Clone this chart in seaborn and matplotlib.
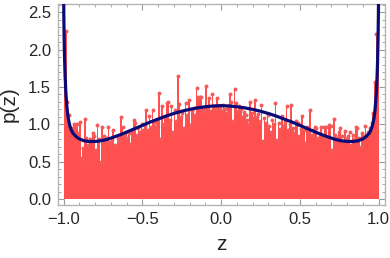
import numpy as np
import matplotlib.pyplot as plt
import seaborn as sns
from matplotlib.ticker import MultipleLocator

# sampled values, one per bin of width 0.01 on [-1, 1]
p_samples = [
    2.90, 2.25, 1.30, 1.12, 0.95, 0.92, 1.00, 0.97, 1.01, 0.88,
    1.03, 0.55, 0.68, 1.07, 0.82, 0.72, 0.80, 0.78, 0.89, 0.84,
    0.66, 0.99, 0.80, 0.50, 0.97, 0.85, 0.78, 0.82, 0.97, 0.76,
    0.80, 0.93, 0.72, 0.70, 0.81, 0.77, 1.10, 0.97, 0.84, 0.90,
    0.82, 0.88, 0.74, 0.93, 1.06, 1.02, 0.86, 0.95, 0.90, 1.01,
    0.93, 0.98, 1.19, 0.92, 1.11, 0.96, 1.19, 1.03, 0.98, 1.05,
    1.42, 0.80, 1.24, 1.00, 1.08, 1.29, 1.30, 1.06, 1.24, 0.90,
    1.19, 1.05, 1.64, 1.27, 1.10, 1.15, 0.95, 1.28, 1.12, 1.32,
    0.99, 1.18, 1.22, 1.12, 1.48, 1.37, 1.36, 1.36, 1.20, 1.16,
    1.51, 1.22, 1.35, 1.18, 1.40, 1.25, 1.20, 1.35, 1.24, 1.22,
    1.18, 1.26, 1.20, 1.15, 1.25, 1.40, 1.30, 1.05, 1.47, 1.29,
    1.18, 1.24, 1.20, 1.10, 1.17, 1.12, 1.06, 1.00, 1.30, 1.15,
    1.08, 1.32, 1.10, 1.14, 1.05, 1.26, 0.77, 1.08, 1.02, 1.12,
    0.98, 0.90, 1.06, 1.00, 1.28, 0.79, 1.02, 0.94, 1.11, 0.98,
    1.03, 1.24, 0.92, 1.00, 1.26, 0.95, 0.88, 1.04, 1.02, 0.85,
    0.94, 1.11, 0.92, 0.75, 0.97, 0.90, 1.19, 0.86, 0.93, 0.96,
    0.95, 0.82, 0.88, 0.97, 0.84, 0.97, 0.97, 0.80, 0.99, 0.98,
    0.66, 1.07, 0.86, 0.82, 0.90, 0.95, 0.84, 0.78, 0.91, 0.80,
    0.85, 0.90, 0.72, 0.86, 0.80, 0.96, 0.95, 0.82, 0.69, 0.88,
    0.84, 0.98, 0.86, 0.90, 0.95, 1.02, 1.15, 1.57, 2.21, 2.90,
]
z_centers = np.linspace(-0.995, 0.995, len(p_samples))

# theoretical density curve
curve_z = [-0.9995, -0.998, -0.996, -0.993, -0.99, -0.985, -0.98, -0.975, -0.97,
           -0.96, -0.95, -0.94, -0.92, -0.9, -0.87, -0.84, -0.8, -0.76, -0.72,
           -0.68, -0.64, -0.6, -0.55, -0.5, -0.45, -0.4, -0.35, -0.3, -0.25,
           -0.2, -0.15, -0.1, -0.05, 0.0,
           0.05, 0.1, 0.15, 0.2, 0.25, 0.3, 0.35, 0.4, 0.45, 0.5, 0.55, 0.6,
           0.64, 0.68, 0.72, 0.76, 0.8, 0.84, 0.87, 0.9, 0.92, 0.94, 0.95,
           0.96, 0.97, 0.975, 0.98, 0.985, 0.99, 0.993, 0.996, 0.998, 0.9995]
curve_p = [2.8, 2.45, 2.15, 1.85, 1.65, 1.42, 1.27, 1.16, 1.08,
           0.98, 0.92, 0.88, 0.835, 0.805, 0.78, 0.77, 0.77, 0.78, 0.80,
           0.83, 0.86, 0.895, 0.94, 0.985, 1.03, 1.07, 1.11, 1.145, 1.175,
           1.20, 1.22, 1.235, 1.245, 1.25,
           1.245, 1.235, 1.22, 1.20, 1.175, 1.145, 1.11, 1.07, 1.03, 0.985, 0.94, 0.895,
           0.86, 0.83, 0.80, 0.78, 0.77, 0.77, 0.78, 0.805, 0.835, 0.88, 0.92,
           0.98, 1.08, 1.16, 1.27, 1.42, 1.65, 1.85, 2.15, 2.45, 2.8]

sns.set_style("ticks")
plt.rcParams['font.family'] = ['Liberation Sans', 'DejaVu Sans']

fig = plt.figure(figsize=(3.9, 2.58), dpi=100)
ax = fig.add_axes([58 / 390, 53 / 258, 327 / 390, 201 / 258])

red = '#ff5050'
sns.histplot(x=z_centers, weights=p_samples, bins=200, binrange=(-1, 1),
             color=red, alpha=1, linewidth=0, edgecolor=None, ax=ax, zorder=2)
sns.scatterplot(x=z_centers, y=p_samples, s=8, color='#f45a5a', linewidth=0,
                ax=ax, zorder=3, clip_on=True)
sns.lineplot(x=curve_z, y=curve_p, color='#0b0b78', linewidth=2.3, sort=False,
             estimator=None, ax=ax, zorder=4)

ax.set_xlim(-1.035, 1.04)
ax.set_ylim(-0.08, 2.61)
ax.xaxis.set_major_locator(MultipleLocator(0.5))
ax.xaxis.set_minor_locator(MultipleLocator(0.1))
ax.yaxis.set_major_locator(MultipleLocator(0.5))
ax.yaxis.set_minor_locator(MultipleLocator(0.1))
ax.xaxis.set_major_formatter(plt.FuncFormatter(lambda v, _: f"{v:.1f}".replace('-', '\u2212')))
ax.yaxis.set_major_formatter(plt.FuncFormatter(lambda v, _: f"{v:.1f}"))

frame = '#b4b4b4'
for s in ax.spines.values():
    s.set_color(frame)
    s.set_linewidth(1.0)
ax.tick_params(which='both', direction='in', top=True, right=True, color='#999999')
ax.tick_params(which='major', length=4, width=0.8, labelsize=12, pad=5)
ax.tick_params(which='minor', length=2, width=0.6)

ax.set_xlabel('z', fontsize=15, labelpad=6)
ax.set_ylabel('p(z)', fontsize=15, labelpad=7)

fig.savefig('out.png', dpi=100)
